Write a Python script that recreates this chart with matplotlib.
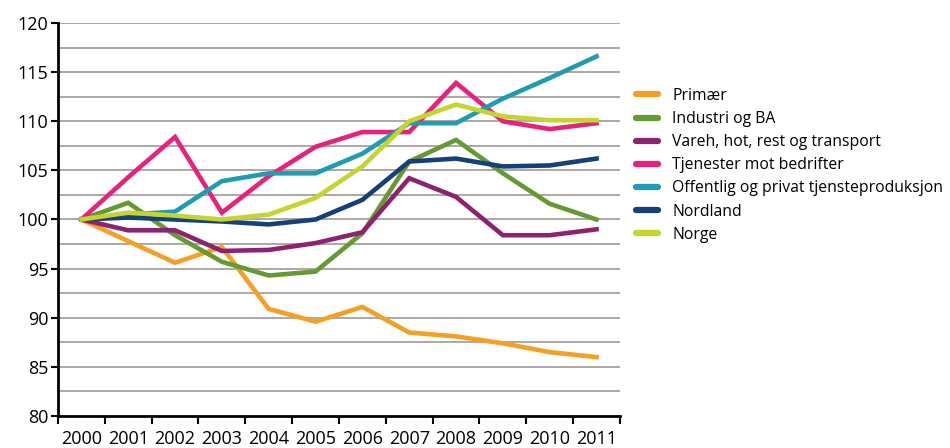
import matplotlib.pyplot as plt
import numpy as np
from matplotlib.ticker import MultipleLocator, FixedLocator

plt.rcParams['font.family'] = ['Open Sans', 'DejaVu Sans']

# data (index, 2000 = 100)
years = ["2000", "2001", "2002", "2003", "2004", "2005",
         "2006", "2007", "2008", "2009", "2010", "2011"]

primaer = [100, 97.8, 95.6, 97.2, 90.9, 89.6, 91.1, 88.5, 88.1, 87.4, 86.5, 86.0]
industri = [100, 101.7, 98.4, 95.7, 94.3, 94.7, 98.6, 105.9, 108.1, 104.7, 101.6, 100.0]
vareh = [100, 98.9, 98.9, 96.8, 96.9, 97.6, 98.7, 104.2, 102.3, 98.4, 98.4, 99.0]
tjenester = [100, 104.3, 108.4, 100.7, 104.4, 107.4, 108.9, 108.9, 113.9, 110.0, 109.2, 109.8]
offentlig = [100, 100.5, 100.8, 103.9, 104.7, 104.7, 106.7, 109.8, 109.8, 112.3, 114.4, 116.6]
nordland = [100, 100.2, 100.0, 99.8, 99.5, 100.0, 102.0, 105.9, 106.2, 105.4, 105.5, 106.2]
norge = [100, 100.7, 100.4, 100.0, 100.5, 102.2, 105.4, 110.0, 111.7, 110.5, 110.1, 110.1]

labels = ["Primær", "Industri og BA", "Vareh, hot, rest og transport",
          "Tjenester mot bedrifter", "Offentlig og privat tjensteproduksjon",
          "Nordland", "Norge"]
colors = ["#F4A024", "#659A33", "#8C2370", "#E5237A", "#1F9CB4", "#173F78", "#C6D430"]
series = [primaer, industri, vareh, tjenester, offentlig, nordland, norge]

fig = plt.figure(figsize=(9.5, 4.48), dpi=100)
ax = fig.add_axes([0.061, 0.0714, 0.5916, 0.8773])

x = np.arange(len(years))
for vals, lab, col in zip(series, labels, colors):
    ax.plot(x, vals, color=col, lw=3.3, label=lab, solid_joinstyle='miter', zorder=3)

ax.set_xlim(-0.5, len(years) - 0.5)
ax.set_ylim(80, 120)

# grid every 2.5
for g in np.arange(82.5, 120.1, 2.5):
    ax.axhline(g, color="#ada8a8", lw=1.4, zorder=1)

ax.yaxis.set_major_locator(MultipleLocator(5))
ax.tick_params(axis='y', direction='out', length=5, width=1.5, labelsize=13, pad=2)

# ticks between years, labels centred on the years
ax.xaxis.set_major_locator(FixedLocator(np.arange(-0.5, len(years), 1)))
ax.xaxis.set_minor_locator(FixedLocator(x))
ax.set_xticklabels([])
ax.set_xticklabels(years, minor=True)
ax.tick_params(axis='x', which='major', direction='out', length=6, width=1.5)
ax.tick_params(axis='x', which='minor', length=0, labelsize=13, pad=10)

for s in ['top', 'right']:
    ax.spines[s].set_visible(False)
for s in ['left', 'bottom']:
    ax.spines[s].set_linewidth(2)
    ax.spines[s].set_zorder(4)

ax.legend(loc='upper left', bbox_to_anchor=(1.018, 0.85), frameon=False,
          fontsize=11.3, handlelength=1.4, handleheight=0.8, labelspacing=0.45,
          handletextpad=0.9, borderaxespad=0)
for h in ax.get_legend().get_lines():
    h.set_linewidth(4.5)
    h.set_solid_capstyle('round')

fig.savefig("out.png", dpi=100)
